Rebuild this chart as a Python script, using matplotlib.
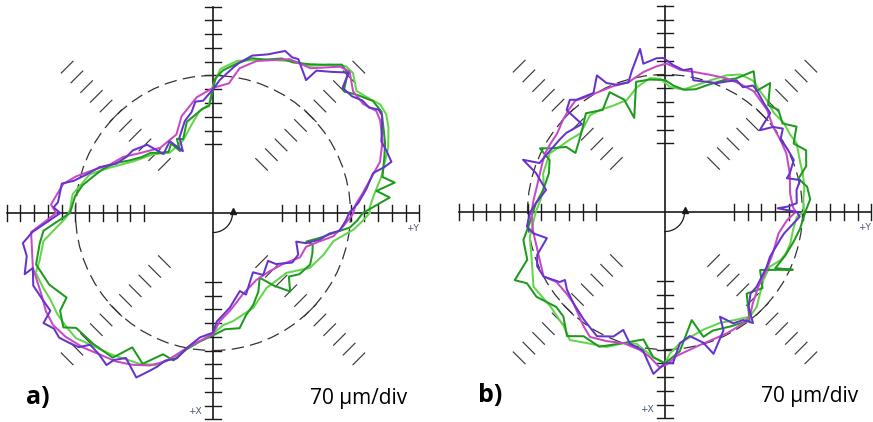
import numpy as np
import matplotlib
matplotlib.use("Agg")
import matplotlib.pyplot as plt
from matplotlib.patches import Circle

# ---- data: radius (in divisions, 70 um/div) vs angle (deg, 0 = +Y, ccw) ----
# panel a)
a_pur_deg = [0, 4, 9, 14, 15, 16, 20, 23, 27, 30, 32, 34, 37, 40, 44, 46, 50, 54, 55, 61, 63, 66, 71, 76, 80, 82, 87, 90,
             95, 99, 102, 107, 114, 116, 121, 130, 134, 142, 147, 153, 158, 163, 167, 169, 176, 178, 180, 186, 189, 193,
             198, 197, 202, 207, 211, 213, 216, 219, 222, 225, 227, 231, 235, 236, 239, 245, 248, 250, 252, 256, 259,
             264, 270, 272, 280, 289, 292, 304, 309, 319, 321, 328, 334, 341, 342, 346, 350, 352, 357]
a_pur_r = [9.9, 10.6, 11.3, 12.0, 12.9, 13.5, 13.4, 13.3, 13.8, 14.2, 14.2, 13.7, 13.6, 13.2, 13.1, 14.2, 13.4, 12.8, 11.8,
           12.8, 12.7, 12.9, 12.2, 11.8, 11.1, 10.7, 9.7, 9.0, 8.2, 8.2, 7.5, 7.0, 6.0, 5.0, 6.1, 5.6, 6.9, 7.4, 7.5, 7.9,
           8.9, 9.6, 10.4, 11.2, 11.3, 11.6, 11.1, 13.2, 14.0, 13.9, 14.4, 13.7, 14.1, 13.9, 13.8, 14.7, 14.3, 14.4, 14.1,
           13.8, 13.1, 13.2, 13.5, 12.9, 12.3, 13.2, 12.4, 11.9, 11.3, 10.9, 10.0, 9.1, 8.7, 7.9, 7.0, 6.0, 6.4, 5.2, 5.8,
           5.3, 5.9, 6.8, 6.9, 6.4, 7.1, 8.0, 8.6, 9.3, 9.7]

a_mag_deg = [0, 3.5, 7, 11.5, 17, 23, 29, 32, 36, 41, 46, 49, 56, 63.5, 74, 79.6, 83, 90, 98, 108, 115, 129, 141, 148, 155,
             161, 165, 169, 177, 180, 186, 197, 200, 205, 210.5, 215, 220, 226, 231, 236.8, 242, 247.5, 252.5, 259, 270,
             273.5, 280, 290, 303, 314, 324, 333, 340, 345, 349, 354, 359]
a_mag_r = [10.2, 10.4, 10.9, 11.6, 12.7, 13.4, 13.9, 14.0, 13.5, 13.5, 14.3, 14.1, 12.7, 12.5, 11.5, 10.7, 9.5, 9.1, 8.5,
           7.4, 6.3, 6.1, 6.9, 7.7, 8.3, 9.4, 10.3, 11.1, 11.8, 11.4, 13.3, 13.7, 13.7, 13.8, 14.1, 14.2, 14.0, 13.6,
           13.2, 12.9, 12.5, 12.0, 11.3, 10.0, 8.8, 7.9, 7.2, 6.3, 5.8, 5.9, 6.3, 7.1, 7.2, 8.0, 8.9, 9.5, 10.1]

a_lgr_deg = [0, 2, 6.6, 12, 17.7, 20.5, 26, 29.7, 33, 37, 40.4, 45, 47.8, 52, 56.7, 62, 71, 81, 87, 90, 92, 97.4, 103.7,
             112.6, 125.7, 135.6, 147, 156.3, 162.6, 167.7, 172.4, 178.5, 180, 181.8, 189.4, 195.5, 198.6, 203.7, 207.4,
             213.2, 218, 222.4, 228, 233.8, 244, 249.5, 254.5, 260.2, 267, 270, 275, 280.5, 292.9, 305.5, 320.9, 330.5,
             339.4, 346.9, 353.3, 357]
a_lgr_r = [11.4, 11.4, 11.8, 12.5, 13.2, 13.6, 14.2, 14.5, 14.5, 14.0, 13.7, 14.4, 14.4, 13.7, 12.8, 12.5, 11.8, 11.2,
           10.5, 9.3, 7.9, 7.5, 6.6, 5.7, 5.4, 6.1, 6.9, 8.2, 9.4, 9.8, 10.3, 10.4, 10.5, 10.7, 12.5, 13.1, 13.6, 13.5,
           13.4, 13.5, 13.5, 13.5, 13.0, 12.7, 12.2, 11.8, 10.9, 9.9, 9.1, 8.8, 8.2, 8.0, 7.5, 6.7, 6.9, 8.1, 8.6, 9.0,
           10.3, 10.9]

a_dgr_deg = [0, 5, 7.7, 9.5, 12, 18, 22, 27, 31, 35, 39, 43, 46, 49, 53, 57, 62, 66, 71, 76, 81, 86, 89, 90, 92, 96, 101,
             106, 112, 116, 118, 121, 126, 131, 136, 142, 148, 153, 158, 163, 168, 173, 178, 180, 186, 190, 196.2, 203.6,
             210, 212.6, 217.4, 220, 227.6, 235.3, 239, 245, 250.5, 255, 259, 264, 270, 276, 283, 288, 293.6, 300, 305.8,
             310, 314.5, 320, 324.7, 332, 338, 342.6, 343, 347, 351, 353.9, 357]
a_dgr_r = [10.9, 12.9, 12.0, 13.4, 12.6, 13.1, 13.5, 13.9, 14.3, 14.2, 13.6, 13.0, 14.1, 14.3, 13.5, 12.9, 12.4, 12.3,
           11.8, 11.6, 11.0, 10.4, 9.8, 9.0, 7.8, 7.6, 7.2, 6.9, 5.8, 6.0, 5.1, 5.9, 5.5, 5.8, 6.3, 6.6, 7.2, 8.0, 8.6,
           9.1, 9.7, 10.1, 10.3, 10.4, 12.4, 12.8, 13.4, 13.0, 12.3, 13.2, 13.7, 13.0, 12.9, 12.8, 11.4, 12.1, 10.9, 11.1,
           10.1, 9.4, 8.9, 8.5, 8.6, 7.8, 7.3, 6.6, 5.8, 6.9, 8.0, 7.2, 7.7, 8.0, 7.8, 7.6, 7.1, 8.0, 9.0, 10.0, 10.5]

# panel b)
b_pur_deg = [0, 1.9, 2.5, 3.8, 9.5, 13.3, 15.5, 17.2, 22, 28.2, 32, 35.3, 38.2, 40.8, 43.2, 47.9, 53.1, 55.2, 58, 61.5,
             64.7, 68.1, 73.6, 77.9, 79.5, 82.6, 86.8, 90.6, 93.1, 98.3, 98.7, 103.4, 105.7, 110.8, 114.4, 116.5, 121,
             128.3, 130.3, 134, 133.4, 141.3, 145.6, 149.7, 158.7, 159.8, 163.2, 169.5, 176, 180, 186, 189.2, 192.5,
             198.5, 203, 208, 213.6, 214.2, 218.4, 224.9, 232.9, 236.8, 241.3, 247.5, 250.5, 255, 261, 263, 265.9, 270,
             273, 276.5, 281.3, 286.3, 288.9, 296.3, 297.7, 301.5, 305.9, 308.4, 311.4, 316.3, 320.8, 331.7, 337, 346.3,
             349.8, 358]
b_pur_r = [9.6, 8.2, 8.9, 9.6, 9.7, 10.1, 9.2, 9.5, 10.1, 10.0, 9.9, 10.5, 10.0, 9.1, 10.5, 10.7, 11.1, 11.2, 10.7, 10.9,
           10.5, 10.1, 9.9, 9.8, 10.6, 10.4, 10.7, 11.2, 11.2, 10.9, 12.0, 10.5, 9.8, 9.9, 10.3, 11.1, 10.1, 10.4, 10.7,
           10.3, 8.8, 9.2, 9.3, 9.4, 9.8, 11.0, 9.8, 8.8, 9.4, 9.8, 10.1, 9.7, 8.8, 9.8, 10.1, 10.0, 9.2, 8.8, 9.1, 9.4,
           9.8, 10.0, 10.3, 9.8, 9.1, 9.9, 10.2, 10.8, 11.8, 11.0, 11.0, 9.6, 9.2, 9.9, 10.9, 9.6, 8.6, 9.5, 9.7, 10.3,
           9.2, 8.6, 8.6, 8.4, 8.3, 8.6, 8.8, 9.8]

b_mag_deg = [0, 2.4, 8.5, 17.2, 25.7, 32, 38.2, 45, 53.7, 59.8, 65.2, 71.8, 78.6, 84, 89.4, 93.5, 98.8, 105.7, 112.4, 120,
             125.7, 128.8, 133.5, 137.9, 144, 149.2, 153.9, 158.5, 168.8, 174.8, 180, 187.8, 198, 208, 212.7, 219.6,
             224.9, 234.5, 239, 245.8, 252.4, 259.7, 264, 268, 270.6, 274.6, 284.7, 290.7, 297, 303.6, 309, 314, 321.3,
             330.3, 339, 349.3, 356.2]
b_mag_r = [9.5, 9.3, 9.2, 9.5, 9.8, 9.9, 10.0, 10.5, 10.9, 10.8, 10.7, 10.5, 10.4, 10.4, 10.8, 10.6, 10.3, 9.8, 9.9, 10.0,
           10.2, 10.4, 10.2, 10.0, 9.7, 9.7, 9.7, 9.6, 9.5, 9.6, 9.7, 9.7, 9.7, 10.0, 9.4, 9.3, 9.4, 10.2, 10.6, 10.3,
           10.0, 10.2, 10.6, 11.3, 11.1, 10.5, 10.0, 9.9, 9.9, 9.9, 9.8, 9.2, 8.7, 8.5, 8.4, 8.4, 8.9]

b_lgr_deg = [0, 5, 10.3, 15.6, 21, 27.5, 32.2, 36.8, 42.3, 47.8, 52.1, 56.2, 61.3, 65.8, 71.2, 81.5, 87.7, 92.1, 96.4,
             102.7, 108.9, 115.8, 122.5, 127.7, 137.2, 142.8, 148, 153, 162.4, 168.2, 174.5, 180, 190.4, 199.8, 209.6,
             219.5, 228.4, 233.4, 239.2, 246.6, 252.4, 257.8, 265.4, 270, 272, 276.5, 288, 296.3, 303.6, 309, 314, 319.4,
             325.3, 332.5, 337.3, 341.2, 346, 352, 358]
b_lgr_r = [10.1, 10.1, 10.3, 10.4, 10.5, 10.8, 10.7, 10.8, 10.7, 11.0, 11.2, 11.5, 11.4, 10.9, 10.1, 9.0, 9.1, 9.7, 9.8,
           9.3, 8.6, 8.6, 8.8, 8.9, 8.4, 8.7, 9.0, 9.4, 9.3, 9.0, 9.1, 9.4, 10.0, 10.3, 11.0, 10.8, 11.1, 11.6, 11.1,
           10.7, 10.0, 9.8, 10.6, 11.0, 10.3, 9.6, 9.0, 9.0, 9.4, 9.8, 9.6, 9.1, 8.7, 8.6, 9.1, 9.3, 9.4, 9.4, 9.6]

b_dgr_deg = [0, 5, 10.1, 14, 18, 23.6, 28, 33, 37, 42, 46, 50.8, 53, 57.8, 62, 66, 71, 76, 81, 86, 90, 96.8, 102.5, 108.1,
             110, 114.8, 121.4, 128.7, 135.1, 140.6, 146.6, 146.6, 150.8, 153, 155.8, 161.5, 169.8, 176, 180, 185, 191.2,
             199.1, 204.4, 207.3, 213.4, 221.1, 225.8, 231.7, 236.8, 244, 252.4, 260.4, 265.4, 270, 276, 283.9, 287.1,
             292, 300, 308, 315, 322, 328.6, 335.7, 333, 340, 347, 353]
b_dgr_r = [10.2, 10.6, 10.5, 10.0, 10.8, 11.2, 10.6, 11.4, 10.7, 11.1, 10.8, 12.1, 11.0, 12.1, 11.0, 10.5, 9.8, 9.2, 9.0,
           9.2, 9.6, 9.7, 9.7, 7.2, 8.7, 9.6, 8.7, 9.2, 8.5, 8.1, 7.8, 8.6, 9.5, 10.2, 9.2, 8.9, 9.0, 9.4, 9.6, 9.9,
           10.5, 10.6, 12.0, 11.3, 11.2, 10.5, 10.6, 11.5, 10.8, 10.9, 10.0, 9.4, 10.6, 11.0, 10.2, 8.1, 9.5, 9.3, 9.6,
           10.0, 8.4, 9.0, 8.1, 10.2, 9.0, 9.3, 9.6, 9.9]

ref_radius = 10          # dashed reference circle, div
tick_divs = list(range(5, 16))
scale_label = "70 µm/div"

C_PUR = "#6633cc"
C_MAG = "#c64ac6"
C_DGR = "#1e9a1e"
C_LGR = "#62d64a"
C_AX = "#1a1a1a"

W, H = 873, 422
PX = 13.75  # pixels per division

fig = plt.figure(figsize=(W / 100, H / 100), dpi=100)
fig.patch.set_facecolor("white")


def xy(deg, r):
    t = np.deg2rad(np.r_[deg, deg[0]])
    rr = np.r_[r, r[0]]
    return rr * np.cos(t), rr * np.sin(t)


def panel(x0, x1, cx, cy, curves):
    ax = fig.add_axes([x0 / W, 0, (x1 - x0) / W, 1])
    ax.set_xlim(-(cx - x0) / PX, (x1 - cx) / PX)
    ax.set_ylim(-(H - cy) / PX, cy / PX)
    ax.axis("off")

    # main axes + ticks
    ax.plot([-15, 15], [0, 0], color=C_AX, lw=1.2, zorder=1)
    ax.plot([0, 0], [-15, 15], color=C_AX, lw=1.2, zorder=1)
    h = 0.6
    for d in tick_divs:
        for s in (-1, 1):
            ax.plot([s * d, s * d], [-h, h], color=C_AX, lw=1.0, zorder=1)
            ax.plot([-h, h], [s * d, s * d], color=C_AX, lw=1.0, zorder=1)
    # diagonal ticks
    for phi in (45, 135, 225, 315):
        p = np.deg2rad(phi)
        ux, uy = np.cos(p), np.sin(p)
        for d in tick_divs:
            ax.plot([d * ux + h * uy, d * ux - h * uy], [d * uy - h * ux, d * uy + h * ux],
                    color="#3a3a3a", lw=0.85, zorder=1)

    ax.add_patch(Circle((0, 0), ref_radius, fill=False, ec="#333333", lw=0.9,
                        ls=(0, (10, 5)), zorder=1))

    # rotation arrow
    t = np.deg2rad(np.linspace(-90, -8, 30))
    ax.plot(1.42 * np.cos(t), 1.42 * np.sin(t), color=C_AX, lw=0.9, zorder=2)
    ax.plot([1.42], [0.15], marker="^", ms=5, color=C_AX, zorder=2)

    for deg, r, c in curves:
        x, y = xy(deg, r)
        ax.plot(x, y, color=c, lw=1.45, zorder=3)

    ax.text(14.5, -1.15, "+Y", fontsize=6.5, color="#4a5675", ha="center", va="center")
    ax.text(-1.35, -14.4, "+X", fontsize=6.5, color="#4a5675", ha="center", va="center")
    return ax


panel(0, 436, 213, 213,
      [(a_lgr_deg, a_lgr_r, C_LGR), (a_dgr_deg, a_dgr_r, C_DGR),
       (a_mag_deg, a_mag_r, C_MAG), (a_pur_deg, a_pur_r, C_PUR)])
panel(436, 873, 665, 212,
      [(b_lgr_deg, b_lgr_r, C_LGR), (b_dgr_deg, b_dgr_r, C_DGR),
       (b_mag_deg, b_mag_r, C_MAG), (b_pur_deg, b_pur_r, C_PUR)])

fam = ["Open Sans", "DejaVu Sans"]
fig.text(26 / W, 1 - 404 / H, "a)", fontsize=18, fontweight="bold", family=fam, va="baseline")
fig.text(478 / W, 1 - 402 / H, "b)", fontsize=18, fontweight="bold", family=fam, va="baseline")
fig.text(310 / W, 1 - 404 / H, scale_label, fontsize=15, family=fam, va="baseline")
fig.text(761 / W, 1 - 402 / H, scale_label, fontsize=15, family=fam, va="baseline")

fig.savefig("out.png", dpi=100, facecolor="white")
